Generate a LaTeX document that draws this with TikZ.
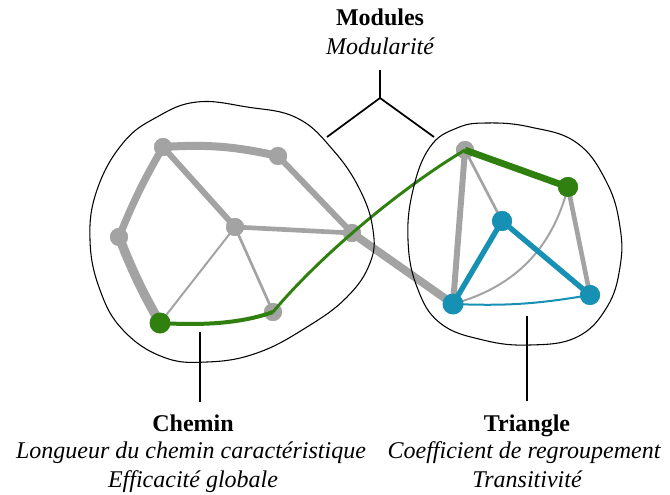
\documentclass[tikz,border=0pt]{standalone}
\usepackage{fontspec}
\setmainfont{Liberation Serif}
\definecolor{ngray}{RGB}{163,163,163}
\definecolor{ngreen}{RGB}{48,128,16}
\definecolor{nblue}{RGB}{22,145,180}
\begin{document}
\begin{tikzpicture}[x=0.75pt,y=-0.75pt,
  gnode/.style={circle,fill=ngray,inner sep=0pt,minimum size=13.5pt},
  grnode/.style={circle,fill=ngreen,inner sep=0pt,minimum size=15pt},
  bnode/.style={circle,fill=nblue,inner sep=0pt,minimum size=15pt},
  gedge/.style={draw=ngray},
  blob/.style={draw=black,line width=0.8pt},
  lbl/.style={anchor=base,inner sep=0pt,font=\fontsize{18}{21}\selectfont},
  title/.style={lbl,font=\fontsize{18}{21}\selectfont\bfseries},
  sub/.style={lbl,font=\fontsize{18}{21}\selectfont\itshape},
  tick/.style={draw=black,line width=1.5pt}]
\useasboundingbox (0,0) rectangle (670,495);

% left module nodes
\node[gnode] (A) at (163,147) {};
\node[gnode] (B) at (278,156) {};
\node[gnode] (C) at (119,237) {};
\node[gnode] (D) at (235,227) {};
\node[gnode] (E) at (352,233) {};
\node[gnode] (F) at (273,312) {};
\node[grnode] (G) at (160,323) {};
% right module nodes
\node[gnode] (H) at (465,150) {};
\node[grnode] (I) at (568,187) {};
\node[bnode] (J) at (502,221) {};
\node[bnode] (K) at (453,304) {};
\node[bnode] (L) at (590,295) {};

% gray edges
\draw[gedge,line width=6pt] (A.center) to[bend left=8] (B.center);
\draw[gedge,line width=5.5pt] (A.center) to[bend right=4] (C.center);
\draw[gedge,line width=7pt] (C.center) to[bend right=4] (G.center);
\draw[gedge,line width=4.5pt] (B.center) -- (E.center);
\draw[gedge,line width=4.5pt] (A.center) -- (D.center);
\draw[gedge,line width=3.5pt] (D.center) -- (E.center);
\draw[gedge,line width=1.5pt] (D.center) -- (G.center);
\draw[gedge,line width=2pt] (D.center) -- (F.center);
\draw[gedge,line width=6pt] (E.center) -- (K.center);
\draw[gedge,line width=4.5pt] (H.center) -- (K.center);
\draw[gedge,line width=2pt] (H.center) -- (J.center);
\draw[gedge,line width=3.5pt] (I.center) -- (L.center);
\draw[gedge,line width=1.5pt] (I.center) to[bend left=30] (K.center);

% gray nodes on top of gray edges
\foreach \p in {A,B,C,D,E,F,H}
  \fill[ngray] (\p.center) circle[radius=9];

% green path
\draw[ngreen,line width=3pt] (G.center) .. controls (210,326) and (245,322) .. (F.center);
\draw[ngreen,line width=2.2pt] (F.center) .. controls (318,258) and (398,190) .. (H.center);
\draw[ngreen,line width=5pt,line join=round] (H.center) -- (I.center);
\fill[ngreen] (G.center) circle[radius=10.5];
\fill[ngreen] (I.center) circle[radius=10];

% blue triangle
\draw[nblue,line width=4pt] (K.center) -- (J.center) -- (L.center);
\draw[nblue,line width=1.5pt] (K.center) to[bend right=6] (L.center);
\fill[nblue] (J.center) circle[radius=10];
\fill[nblue] (K.center) circle[radius=10.5];
\fill[nblue] (L.center) circle[radius=10];

% module outlines
\draw[blob] plot[smooth cycle,tension=0.7] coordinates {
 (197,102) (247,107) (297,118) (333,150) (360,190) (373,230) (370,263)
 (347,297) (307,327) (257,353) (207,362) (163,357) (123,330) (100,290)
 (90,240) (97,190) (123,143) (157,117)};
\draw[blob] plot[smooth cycle,tension=0.7] coordinates {
 (487,123) (530,127) (577,143) (607,183) (620,227) (620,267) (607,307)
 (577,337) (530,345) (483,340) (440,323) (417,287) (408,240) (413,190)
 (430,147) (457,128)};

% label connectors
\coordinate (mtop) at (380,70);
\coordinate (mj) at (380,98);
\coordinate (ml) at (327,137);
\coordinate (mr) at (434,137);
\draw[tick] (mtop) -- (mj);
\draw[tick,line width=1.3pt] (ml) -- (mj) -- (mr);
\coordinate (c1) at (200,332);
\coordinate (c2) at (200,402);
\draw[tick] (c1) -- (c2);
\coordinate (t1) at (527,316);
\coordinate (t2) at (527,401);
\draw[tick] (t1) -- (t2);

% labels
\node[title] (modT) at (380,26) {Modules};
\node[sub] (modS) at (380,55) {Modularité};
\node[title] (cheT) at (193,431) {Chemin};
\node[sub] (cheS1) at (191,458) {Longueur du chemin caractéristique};
\node[sub] (cheS2) at (193,487) {Efficacité globale};
\node[title] (triT) at (527,431) {Triangle};
\node[sub] (triS1) at (524,458) {Coefficient de regroupement};
\node[sub] (triS2) at (527,487) {Transitivité};
\end{tikzpicture}
\end{document}
